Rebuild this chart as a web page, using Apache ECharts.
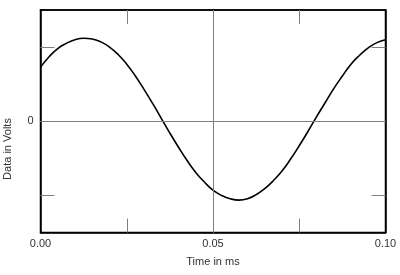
<!DOCTYPE html>
<html><head><meta charset="utf-8">
<script src="https://cdn.jsdelivr.net/npm/echarts@6/dist/echarts.min.js"></script>
<style>html,body{margin:0;padding:0;background:#fff}#c{width:400px;height:275px}</style>
</head><body><div id="c"></div>
<script>
const times = [0,0.0025,0.005,0.0075,0.01,0.0125,0.015,0.0175,0.02,0.0225,0.025,0.0275,0.03,0.0325,0.035,0.0375,0.04,0.0425,0.045,0.0475,0.05,0.0525,0.055,0.0575,0.06,0.0625,0.065,0.0675,0.07,0.0725,0.075,0.0775,0.08,0.0825,0.085,0.0875,0.09,0.0925,0.095,0.0975,0.1];
const volts = [0.73,0.87,0.98,1.05,1.10,1.12,1.11,1.07,1.00,0.90,0.77,0.61,0.43,0.24,0.04,-0.16,-0.35,-0.53,-0.69,-0.82,-0.93,-1.00,-1.045,-1.063,-1.045,-0.99,-0.91,-0.80,-0.67,-0.51,-0.33,-0.14,0.06,0.25,0.44,0.61,0.77,0.89,0.99,1.06,1.10];
const xLabels = [0, 0.05, 0.1];
const xTicks = [0.025, 0.05, 0.075];
const yTicks = [-1, 0, 1];
const yLabels = [0];

const data = times.map((t,i)=>[t, volts[i]]);
const tickStyle = {show:true, inside:true, length:14, lineStyle:{color:'#808080', width:1}};
const axLine = {show:true, onZero:false, lineStyle:{color:'#000', width:1.5}};
const font = 'Liberation Sans, Arial, sans-serif';
const chart = echarts.init(document.getElementById('c'), null, {renderer:'canvas'});
chart.setOption({
  animation:false,
  grid:{left:40.5, top:10, right:14.5, bottom:42.5, show:true, borderColor:'#000', borderWidth:1.5},
  xAxis:[{
    type:'value', min:0, max:0.1, position:'bottom',
    axisLine:axLine,
    axisTick:Object.assign({customValues:xTicks}, tickStyle),
    axisLabel:{customValues:xLabels, formatter:v=>v.toFixed(2), color:'#333', fontFamily:font, fontSize:11, margin:6, showMinLabel:true, showMaxLabel:true},
    splitLine:{show:false},
    name:'Time in ms', nameLocation:'middle', nameGap:24, nameTextStyle:{color:'#333', fontFamily:font, fontSize:11}
  },{
    type:'value', min:0, max:0.1, position:'top',
    axisLine:axLine,
    axisTick:Object.assign({customValues:xTicks}, tickStyle),
    axisLabel:{show:false}, splitLine:{show:false}
  }],
  yAxis:[{
    type:'value', min:-1.5, max:1.5, position:'left',
    axisLine:axLine,
    axisTick:Object.assign({customValues:yTicks}, tickStyle),
    axisLabel:{customValues:yLabels, color:'#333', fontFamily:font, fontSize:11, margin:7},
    splitLine:{show:false}
  },{
    type:'value', min:-1.5, max:1.5, position:'right',
    axisLine:axLine,
    axisTick:Object.assign({customValues:yTicks}, tickStyle),
    axisLabel:{show:false}, splitLine:{show:false}
  }],
  graphic:[{
    type:'text', rotation:Math.PI/2, x:8, y:149,
    style:{text:'Data in Volts', fill:'#333', font:'11px '+font, textAlign:'center', textVerticalAlign:'middle'}
  }],
  series:[{
    type:'line', data:data, smooth:true, symbol:'none',
    lineStyle:{color:'#000', width:1.6},
    markLine:{silent:true, symbol:'none', label:{show:false},
      lineStyle:{color:'#808080', width:1, type:'solid'},
      data:[{xAxis:0.05},{yAxis:0}]},
    z:3
  }]
});
</script></body></html>
